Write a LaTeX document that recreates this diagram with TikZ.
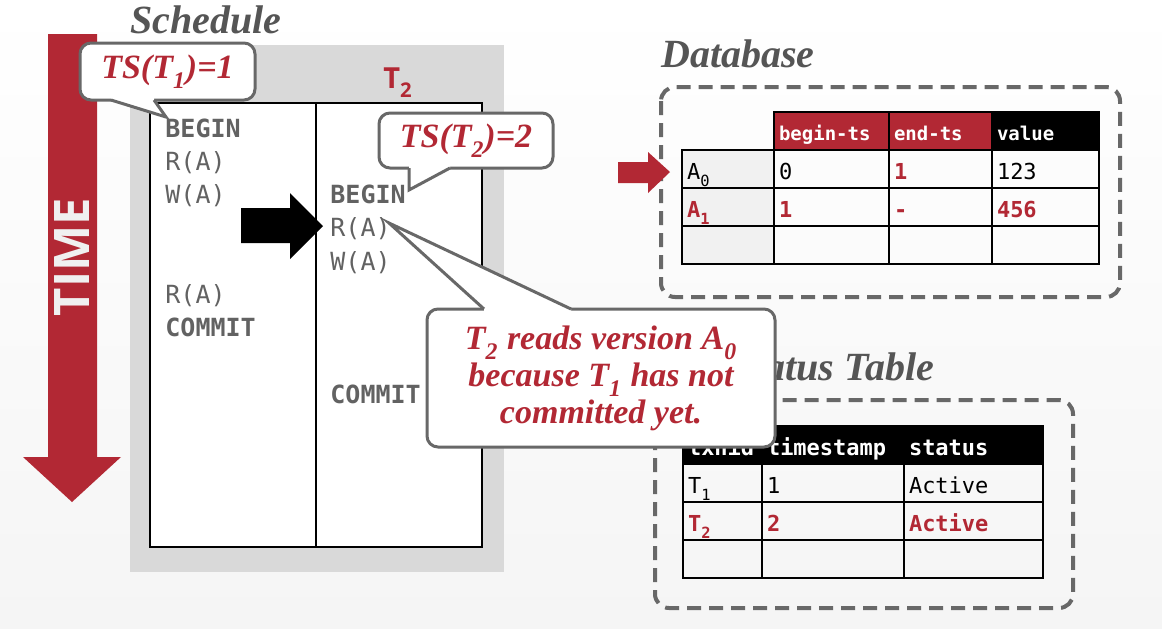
\documentclass[tikz,border=0pt]{standalone}
\usepackage{fontspec}
\setmainfont{Liberation Serif}
\setmonofont{DejaVu Sans Mono}
\newfontfamily\labelfont{Open Sans}
\definecolor{cmured}{RGB}{178,40,52}
\definecolor{ink}{RGB}{98,98,98}
\definecolor{slate}{RGB}{85,85,85}
\definecolor{edge}{RGB}{104,104,104}
\definecolor{panel}{RGB}{217,217,217}
\definecolor{shade}{RGB}{241,241,241}
\definecolor{paper}{RGB}{245,245,245}
\newcommand\hot{\color{cmured}\bfseries}
\newcommand\lo[1]{\textsubscript{\raisebox{-0.45ex}{#1}}}
\tikzset{
  title/.style={font=\fontsize{20}{24}\selectfont\bfseries\itshape,text=slate,
    anchor=base west,inner sep=0pt},
  op/.style={font=\fontsize{12.5}{15}\selectfont\ttfamily,text=ink,anchor=base west,inner sep=0pt},
  callout/.style={fill=white,draw=edge,line width=1.5pt,rounded corners=5.5pt,
    font=\fontsize{17}{18.5}\selectfont\bfseries\itshape,text=cmured,align=center},
  pointer/.style={draw=edge,line width=1.5pt,line join=miter},
  frame/.style={draw=edge,line width=2pt,dash pattern=on 7pt off 4pt,rounded corners=7pt},
  cell/.style={draw=black,line width=1pt,minimum height=19pt,text width=#1,
    inner xsep=2.5pt,inner ysep=0pt,outer sep=0pt,anchor=north west,align=left,
    text height=10pt,text depth=0pt,font=\fontsize{11}{13}\selectfont\ttfamily},
  head/.style={fill=#1,text=white,font=\fontsize{11}{13}\selectfont\ttfamily\bfseries},
  head/.default=black,
  small head/.style={text height=9pt,font=\fontsize{9.5}{11}\selectfont\ttfamily\bfseries},
}
\begin{document}
\begin{tikzpicture}[x=0.5pt,y=-0.5pt]
  \fill[top color=white,bottom color=paper] (0,0) rectangle (1162,628);
  \useasboundingbox (0,0) rectangle (1162,628);
  % time arrow
  \fill[cmured] (48,34) -- (97,34) -- (97,457) -- (121,457) -- (72,502) -- (23,457) -- (48,457) -- cycle;
  \node[rotate=90,font=\labelfont\bfseries\fontsize{24.5}{28}\selectfont,text=white!94!black] (time) at (72,257) {TIME};
  % schedule
  \node[title] (sched) at (130,33) {Schedule};
  \fill[panel] (130,45) rectangle (504,572);
  \draw[fill=white,line width=0.75pt] (150,103) rectangle (482,547);
  \draw[line width=0.75pt] (316,103) -- (316,547);
  \node[font=\labelfont\bfseries\fontsize{14.5}{17}\selectfont,text=cmured,anchor=base] (t2) at (398,88) {T\lo{2}};
  \foreach \t/\k in {{\bfseries BEGIN}/0,R(A)/1,W(A)/2,R(A)/5,{\bfseries COMMIT}/6}
    \node[op] (a\k) at (165,{137+33.3*\k}) {\t};
  \foreach \t/\k in {{\bfseries BEGIN}/2,R(A)/3,W(A)/4,{\bfseries COMMIT}/8}
    \node[op] (b\k) at (330,{137+33.3*\k}) {\t};
  \fill[black] (241,208) -- (290,208) -- (290,193) -- (323,226) -- (290,259) -- (290,243) -- (241,243) -- cycle;
  % database
  \node[title] (dbtitle) at (661,67) {Database};
  \draw[frame] (661,87) rectangle (1120,297);
  \node[cell=52.5pt,head=cmured,small head] (dbh1) at (774,112) {begin-ts};
  \node[cell=46.5pt,head=cmured,small head] (dbh2) at (889,112) {end-ts};
  \node[cell=48.5pt,head,small head] (dbh3) at (992,112) {value};
  \foreach \r/\y/\ver/\beg/\fin/\val in {1/150/{A\lo{0}}/0/{\hot 1}/123,
      2/188/{\hot A\lo{1}}/{\hot 1}/{\hot -}/{\hot 456},3/226/{}/{}/{}/{}}{
    \node[cell=41pt,fill=shade] (db\r-n) at (682,\y) {\ver};
    \node[cell=52.5pt] (db\r-b) at (774,\y) {\beg};
    \node[cell=46.5pt] (db\r-e) at (889,\y) {\fin};
    \node[cell=48.5pt] (db\r-v) at (992,\y) {\val};
  }
  \fill[cmured] (618,162) -- (648,162) -- (648,152) -- (670,172) -- (648,193) -- (648,183) -- (618,183) -- cycle;
  % status table
  \node[title] (sttitle) at (655,380) {Txn Status Table};
  \draw[frame] (655,400) rectangle (1073,608);
  \node[cell=34.5pt,head] (sth1) at (683,426) {txnid};
  \node[cell=66pt,head] (sth2) at (762,426) {timestamp};
  \node[cell=64.5pt,head] (sth3) at (904,426) {status};
  \foreach \r/\y/\txn/\tsv/\stv in {1/464/{T\lo{1}}/1/Active,
      2/502/{\hot T\lo{2}}/{\hot 2}/{\hot Active},3/540/{}/{}/{}}{
    \node[cell=34.5pt] (st\r-n) at (683,\y) {\txn};
    \node[cell=66pt] (st\r-t) at (762,\y) {\tsv};
    \node[cell=64.5pt] (st\r-s) at (904,\y) {\stv};
  }
  % callouts
  \node[callout,minimum width=87.5pt,minimum height=28.5pt] (ts1) at (167.5,71.5) {TS(T\lo{1})=1};
  \fill[white] (111,97) -- (111,100) -- (166,117) -- (154,100) -- (154,97) -- cycle;
  \draw[pointer] (111,100) -- (166,117) -- (154,100);
  \node[callout,minimum width=87pt,minimum height=27.5pt] (ts2) at (466,140.5) {TS(T\lo{2})=2};
  \fill[white] (409,165) -- (409,190) -- (450,168) -- (450,165) -- cycle;
  \draw[pointer] (409,168) -- (409,190) -- (450,168);
  \node[callout,minimum width=174pt,minimum height=69pt] (why) at (601,378)
    {T\lo{2} reads version A\lo{0}\\because T\lo{1} has not\\committed yet.};
  \fill[white] (484,312) -- (484,309) -- (389,223) -- (571,309) -- (571,312) -- cycle;
  \draw[pointer] (484,309) -- (389,223) -- (571,309);
\end{tikzpicture}
\end{document}
